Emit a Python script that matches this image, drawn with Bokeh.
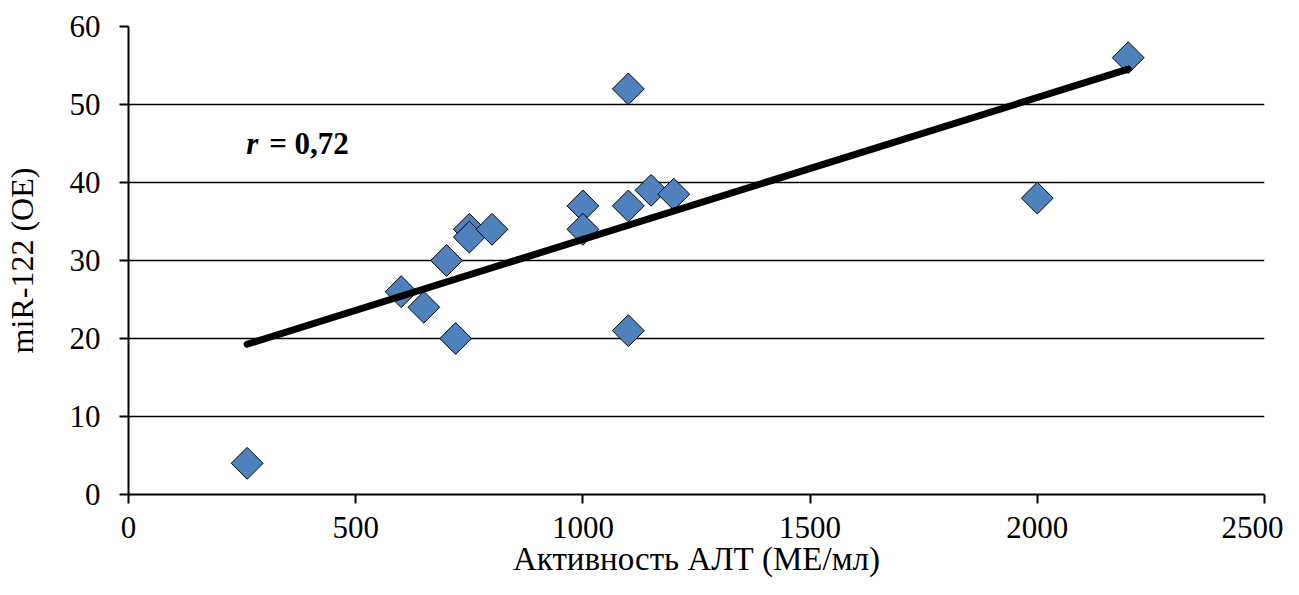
import numpy as np
from bokeh.plotting import figure
from bokeh.models import Range1d, Label, FixedTicker
from bokeh.embed import file_html
from bokeh.resources import INLINE

alt_activity = [261, 600, 650, 700, 720, 750, 750, 800, 1000, 1000, 1100, 1100, 1100, 1150, 1200, 2000, 2200]
mir122 = [4, 26, 24, 30, 20, 34, 33, 34, 37, 34, 52, 37, 21, 39, 38.5, 38, 56]
x_ticks = [0, 500, 1000, 1500, 2000, 2500]
y_ticks = [0, 10, 20, 30, 40, 50, 60]
x_title = "Активность АЛТ (МЕ/мл)"
y_title = "miR-122 (ОЕ)"
r_text = "0,72"

FONT = "Liberation Serif"
TICK_FS = "31px"

p = figure(width=1283, height=579, output_backend="svg", toolbar_location=None,
           x_range=Range1d(0, 2500), y_range=Range1d(0, 60),
           min_border_left=127, min_border_right=19, min_border_top=26, min_border_bottom=85)
p.outline_line_color = None
p.background_fill_color = "white"
p.border_fill_color = "white"

p.xgrid.grid_line_color = None
p.ygrid.grid_line_color = "black"
p.ygrid.grid_line_width = 1.5
p.ygrid.grid_line_alpha = 1

p.xaxis.ticker = FixedTicker(ticks=x_ticks)
p.yaxis.ticker = FixedTicker(ticks=y_ticks)
for ax in (p.xaxis, p.yaxis):
    ax.axis_line_color = "black"
    ax.axis_line_width = 2
    ax.major_tick_line_color = "black"
    ax.major_tick_line_width = 2
    ax.major_tick_out = 9
    ax.major_tick_in = 0
    ax.minor_tick_line_color = None
    ax.major_label_text_font = FONT
    ax.major_label_text_font_size = TICK_FS
    ax.major_label_text_color = "black"
    ax.axis_label_text_font = FONT
    ax.axis_label_text_font_style = "normal"
    ax.axis_label_text_color = "black"

p.xaxis.axis_label = x_title
p.xaxis.axis_label_text_font_size = "33px"
p.xaxis.major_label_standoff = 13
p.xaxis.axis_label_standoff = 0

p.yaxis.axis_label = y_title
p.yaxis.axis_label_text_font_size = "32px"
p.yaxis.major_label_standoff = 19
p.yaxis.axis_label_standoff = 27

p.scatter(alt_activity, mir122, marker="square", angle=np.pi / 4, size=22.5,
          fill_color="#4F81BD", line_color="black", line_width=1)

slope, intercept = np.polyfit(alt_activity, mir122, 1)
xs = [min(alt_activity), max(alt_activity)]
ys = [slope * v + intercept for v in xs]
p.line(xs, ys, line_color="black", line_width=7, line_cap="round")

p.add_layout(Label(x=259, y=45.0, text="r", text_font=FONT, text_font_size="31px",
                   text_font_style="bold italic", text_color="black", text_baseline="alphabetic"))
p.add_layout(Label(x=259, y=45.0, x_offset=23, text="= " + r_text, text_font=FONT, text_font_size="31px",
                   text_font_style="bold", text_color="black", text_baseline="alphabetic"))

open("out.html", "w").write(file_html(p, INLINE))
